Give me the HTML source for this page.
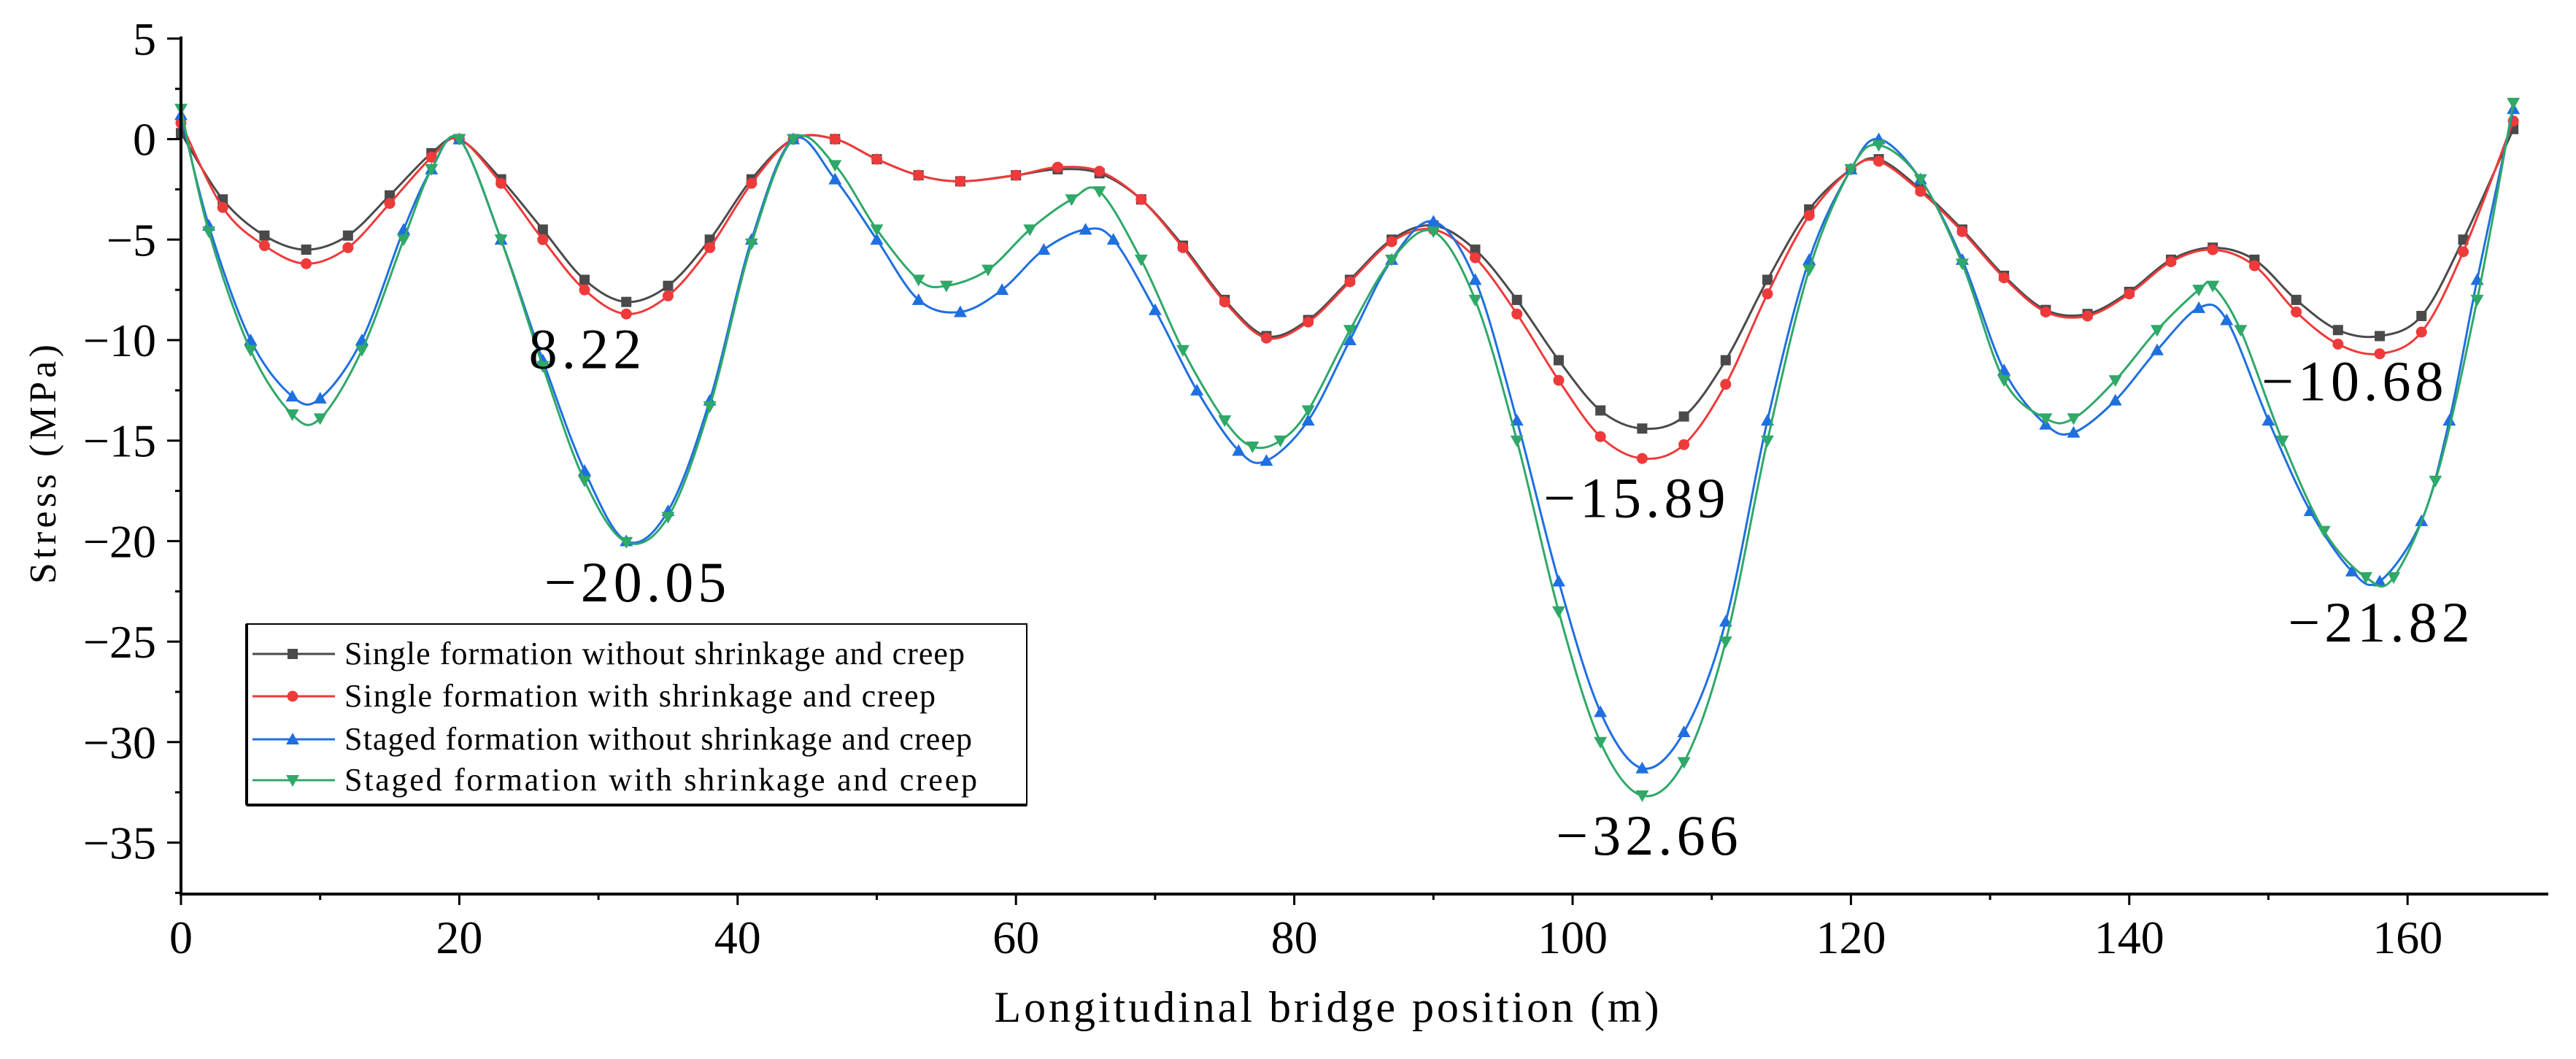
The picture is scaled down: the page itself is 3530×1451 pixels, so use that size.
<!DOCTYPE html>
<html><head><meta charset="utf-8"><style>
html,body{margin:0;padding:0;background:#fff;}
svg{display:block;font-family:"Liberation Serif",serif;}
</style></head><body>
<svg id="chart" width="3530" height="1451" viewBox="0 0 3530 1451" xmlns="http://www.w3.org/2000/svg">
<g id="grid"></g><g id="series"></g><g id="axes"></g><g id="annots"></g><g id="legend"></g>
</svg>
<script>
const xTicks=[0,20,40,60,80,100,120,140,160];
const yTicks=[5,0,-5,-10,-15,-20,-25,-30,-35];
const seriesNames=["Single formation without shrinkage and creep","Single formation with shrinkage and creep","Staged formation without shrinkage and creep","Staged formation with shrinkage and creep"];
const blackX=[0,3,6,9,12,15,18,20,23,26,29,32,35,38,41,44,47,50,53,56,60,63,66,69,72,75,78,81,84,87,90,93,96,99,102,105,108,111,114,117,120,122,125,128,131,134,137,140,143,146,149,152,155,158,161,164,167.6];
const blackY=[0.3,-3,-4.8,-5.5,-4.8,-2.8,-0.7,0,-2,-4.5,-7,-8.1,-7.3,-5,-2,0,0,-1,-1.8,-2.1,-1.8,-1.5,-1.7,-3,-5.3,-8,-9.8,-9,-7,-5,-4.3,-5.5,-8,-11,-13.5,-14.4,-13.8,-11,-7,-3.5,-1.5,-1,-2.5,-4.5,-6.8,-8.5,-8.7,-7.6,-6,-5.4,-6,-8,-9.5,-9.8,-8.8,-5,0.5];
const redY=[0.8,-3.4,-5.3,-6.2,-5.4,-3.2,-0.9,0,-2.2,-5,-7.5,-8.7,-7.8,-5.4,-2.2,0,0,-1,-1.8,-2.1,-1.8,-1.4,-1.6,-3,-5.4,-8.1,-9.9,-9.1,-7.1,-5.1,-4.5,-5.9,-8.7,-12,-14.8,-15.89,-15.2,-12.2,-7.7,-3.8,-1.5,-1.1,-2.6,-4.6,-6.9,-8.6,-8.8,-7.7,-6.1,-5.5,-6.3,-8.6,-10.2,-10.68,-9.6,-5.6,0.9];
const blueX=[0,2,5,8,10,13,16,18,20,23,26,29,32,35,38,41,44,47,50,53,56,59,62,65,67,70,73,76,78,81,84,87,90,93,96,99,102,105,108,111,114,117,120,122,125,128,131,134,136,139,142,145,147,150,153,156,158,161,163,165,167.6];
const blueY=[1.2,-4.3,-10,-12.8,-12.9,-10,-4.5,-1.5,0,-5,-11,-16.5,-20,-18.5,-13,-5,0,-2,-5,-8,-8.6,-7.5,-5.5,-4.5,-5,-8.5,-12.5,-15.5,-16,-14,-10,-6,-4.1,-7,-14,-22,-28.5,-31.3,-29.5,-24,-14,-6,-1.5,0,-2,-6,-11.5,-14.2,-14.6,-13,-10.5,-8.4,-9,-14,-18.5,-21.5,-22,-19,-14,-7,1.5];
const greenX=[0,2,5,8,10,13,16,18,20,23,26,29,32,35,38,41,44,47,50,53,55,58,61,64,66,69,72,75,77,79,81,84,87,90,93,96,99,102,105,108,111,114,117,120,122,125,128,131,134,136,139,142,145,146,148,151,154,157,159,162,165,167.6];
const greenY=[1.5,-4.6,-10.5,-13.7,-13.9,-10.5,-5,-1.5,0,-5,-11.3,-17,-20.05,-18.8,-13.3,-5.2,0,-1.3,-4.5,-7,-7.3,-6.5,-4.5,-3,-2.6,-6,-10.5,-14,-15.3,-15,-13.5,-9.5,-6,-4.6,-8,-15,-23.5,-30,-32.66,-31,-25,-15,-6.5,-1.5,-0.3,-2,-6.2,-12,-13.9,-13.9,-12,-9.5,-7.5,-7.3,-9.5,-15,-19.5,-21.8,-21.8,-17,-8,1.8];
const annotText=["8.22","\u221220.05","\u221215.89","\u221210.68","\u221232.66","\u221221.82"];
const annotX=[29.2,32.8,104.6,156.2,105.5,158.1];
const annotY=[-11.4,-23,-18.8,-13,-35.6,-25];

const X0=248,XS=381.4/20,Y0=190.6,YS=137.7/5;
const sx=v=>X0+v*XS, sy=v=>Y0-v*YS;
const NS="http://www.w3.org/2000/svg";
function mk(tag,attrs,parent){const e=document.createElementNS(NS,tag);for(const k in attrs)e.setAttribute(k,attrs[k]);parent.appendChild(e);return e;}
const axes=document.getElementById('axes'),ser=document.getElementById('series'),ann=document.getElementById('annots'),leg=document.getElementById('legend');
let yl=mk('line',{x1:248,y1:50,x2:248,y2:1227,stroke:'#000','stroke-width':4},axes);


let xl=mk('line',{x1:246,y1:1225,x2:3492,y2:1225,stroke:'#000','stroke-width':4},axes);


for(let i=0;i<xTicks.length;i++){const v=xTicks[i];
 mk('line',{x1:sx(v),y1:1225,x2:sx(v),y2:1240,stroke:'#000','stroke-width':3},axes);
 if(v+10<=167)mk('line',{x1:sx(v+10),y1:1225,x2:sx(v+10),y2:1233,stroke:'#000','stroke-width':3},axes);
 const t=mk('text',{x:sx(v),y:1306,'font-size':64,'text-anchor':'middle'},axes);t.textContent=v;
 
 
}
for(let i=0;i<yTicks.length;i++){const v=yTicks[i];
 mk('line',{x1:229,y1:sy(v),x2:248,y2:sy(v),stroke:'#000','stroke-width':3},axes);
 if(v-2.5>-37.6)mk('line',{x1:240,y1:sy(v-2.5),x2:248,y2:sy(v-2.5),stroke:'#000','stroke-width':3},axes);
 const t=mk('text',{x:214,y:sy(v)+22,'font-size':64,'text-anchor':'end'},axes);t.textContent=v<0?'\u2212'+(-v):v;
 
 
}
let xt=mk('text',{x:1818,y:1400,'font-size':60,'text-anchor':'middle',textLength:911},axes);xt.textContent="Longitudinal bridge position (m)";


let yt=mk('text',{x:0,y:0,'font-size':52,'text-anchor':'middle',textLength:328,transform:'translate(76,636) rotate(-90)'},axes);yt.textContent="Stress (MPa)";



function path(xs,ys){const p=xs.map((x,i)=>[sx(x),sy(ys[i])]);let d='M'+p[0][0]+','+p[0][1];
 for(let i=0;i<p.length-1;i++){const a=p[Math.max(0,i-1)],b=p[i],c=p[i+1],e=p[Math.min(p.length-1,i+2)];
  d+=' C'+(b[0]+(c[0]-a[0])/6)+','+(b[1]+(c[1]-a[1])/6)+' '+(c[0]-(e[0]-b[0])/6)+','+(c[1]-(e[1]-b[1])/6)+' '+c[0]+','+c[1];}
 return d;}
function marker(type,x,y,col,g){
 if(type==0)return mk('rect',{x:x-7,y:y-7,width:14,height:14,fill:col},g);
 if(type==1)return mk('circle',{cx:x,cy:y,r:7.5,fill:col},g);
 if(type==2)return mk('polygon',{points:`${x},${y-9} ${x-9},${y+7} ${x+9},${y+7}`,fill:col},g);
 return mk('polygon',{points:`${x},${y+9} ${x-9},${y-7} ${x+9},${y-7}`,fill:col},g);}
const cols=['#4a4a4a','#ee3a3a','#1f6fe0','#2fa868'];
const sdata=[[blackX,blackY],[blackX,redY],[blueX,blueY],[greenX,greenY]];
const snames=['series-single-no-creep','series-single-creep','series-staged-no-creep','series-staged-creep'];
for(let s=0;s<4;s++){const g=mk('g',{},ser);
 
 
 mk('path',{d:path(sdata[s][0],sdata[s][1]),fill:'none',stroke:cols[s],'stroke-width':3},g);
 sdata[s][0].forEach((x,i)=>marker(s,sx(x),sy(sdata[s][1][i]),cols[s],g));}
for(let i=0;i<annotText.length;i++){const t=mk('text',{x:sx(annotX[i]),y:sy(annotY[i]),'font-size':78,'text-anchor':'middle','letter-spacing':6},ann);t.textContent=annotText[i];
 
 }
let lb=mk('rect',{x:338,y:855,width:1069,height:248,fill:'#fff',stroke:'#000','stroke-width':2},leg);


mk('line',{x1:338,y1:855,x2:338,y2:1103,stroke:'#000','stroke-width':4},leg);
mk('line',{x1:338,y1:1103,x2:1407,y2:1103,stroke:'#000','stroke-width':4},leg);
const ly=[896,954,1013,1069];
const lw=[850,810,860,867];
for(let s=0;s<4;s++){const g=mk('g',{},leg);
 
 
 mk('line',{x1:346,y1:ly[s],x2:459,y2:ly[s],stroke:cols[s],'stroke-width':3},g);
 marker(s,401,ly[s],cols[s],g);
 const t=mk('text',{x:472,y:ly[s]+14,'font-size':44,textLength:lw[s]},g);t.textContent=seriesNames[s];}
</script>
</body></html>
